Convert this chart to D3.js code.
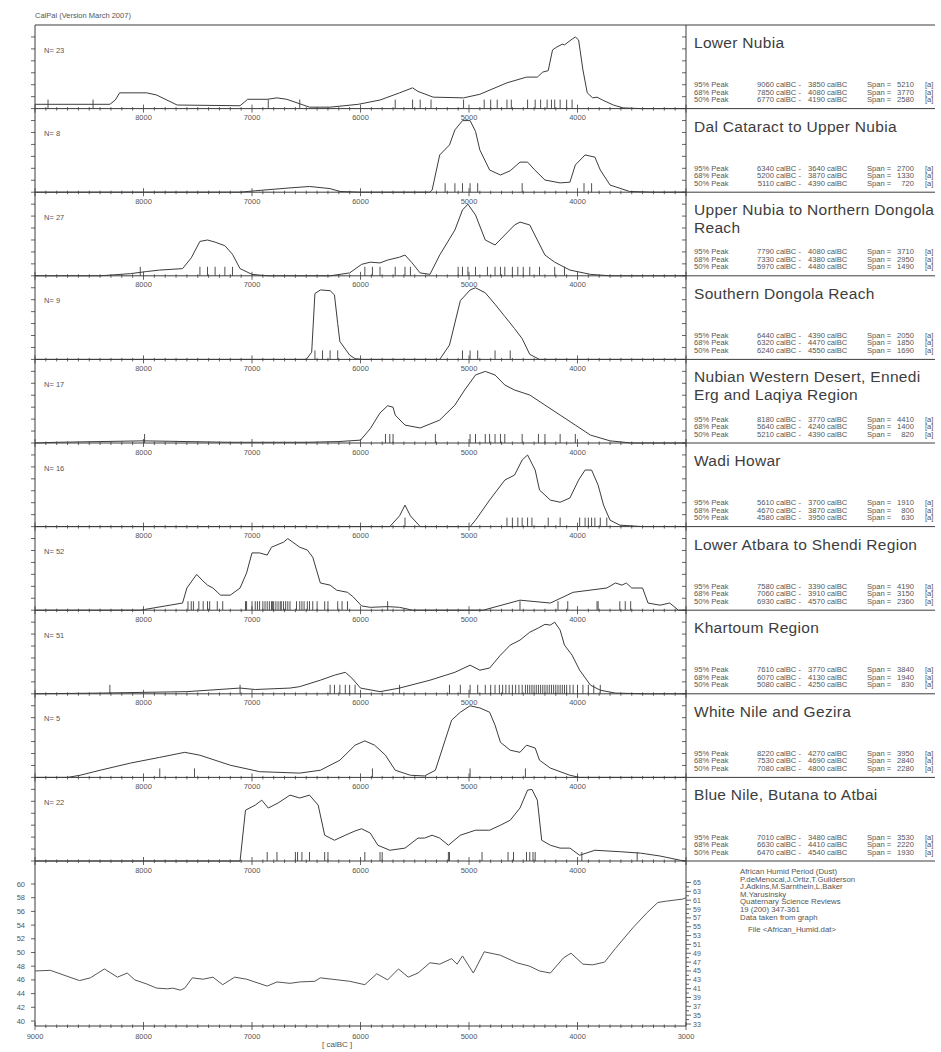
<!DOCTYPE html>
<html><head><meta charset="utf-8">
<script src="https://cdn.jsdelivr.net/npm/d3@7/dist/d3.min.js"></script>
<style>
body{margin:0;background:#fff;}
svg{display:block;font-family:"Liberation Sans",Arial,sans-serif;}
</style></head><body>
<svg id="chart" width="941" height="1052"></svg>
<script>
// ---- data -------------------------------------------------------------
const regionNames = [
  ["Lower Nubia"],
  ["Dal Cataract to Upper Nubia"],
  ["Upper Nubia to Northern Dongola", "Reach"],
  ["Southern Dongola Reach"],
  ["Nubian Western Desert, Ennedi", "Erg and Laqiya Region"],
  ["Wadi Howar"],
  ["Lower Atbara to Shendi Region"],
  ["Khartoum Region"],
  ["White Nile and Gezira"],
  ["Blue Nile, Butana to Atbai"]
];
const sampleCounts = [23, 8, 27, 9, 17, 16, 52, 51, 5, 22];
const peakLevels = ["95% Peak", "68% Peak", "50% Peak"];
const range95 = [[9060,3850],[6340,3640],[7790,4080],[6440,4390],[8180,3770],[5610,3700],[7580,3390],[7610,3770],[8220,4270],[7010,3480]];
const range68 = [[7850,4080],[5200,3870],[7330,4380],[6320,4470],[5640,4240],[4670,3870],[7060,3910],[6070,4130],[7530,4690],[6630,4410]];
const range50 = [[6770,4190],[5110,4390],[5970,4480],[6240,4550],[5210,4390],[4580,3950],[6930,4570],[5080,4250],[7080,4800],[6470,4540]];

// summed probability, [calBC, relative density in % of panel maximum]
const curveLowerNubia = [[9000,6],[8310,6],[8260,12],[8220,22],[7970,22],[7880,19],[7690,5],[7110,4],[7040,13],[6860,13],[6770,15],[6680,13],[6470,2],[6280,2],[6020,6],[5820,12],[5640,22],[5520,29],[5470,24],[5330,16],[5050,15],[4900,20],[4650,36],[4470,44],[4370,44],[4320,51],[4270,53],[4230,82],[4190,86],[4140,90],[4120,89],[4050,97],[4020,100],[3990,96],[3950,54],[3910,22],[3860,15],[3820,16],[3770,12],[3670,5],[3580,1],[3420,0],[3000,0]];
const curveDalCataract = [[9000,0],[7110,0],[6970,2],[6650,6],[6470,8],[6280,5],[6190,1],[6000,0],[5360,0],[5340,3],[5270,52],[5180,66],[5130,87],[5060,100],[4990,100],[4940,85],[4900,59],[4810,31],[4710,24],[4620,30],[4530,42],[4460,42],[4400,32],[4300,17],[4160,13],[4070,14],[4020,38],[3930,52],[3840,49],[3790,31],[3700,10],[3520,1],[3300,0],[3000,0]];
const curveUpperNubia = [[9000,0],[8400,0],[8120,3],[7970,6],[7850,8],[7640,10],[7560,25],[7480,48],[7410,50],[7340,47],[7250,42],[7180,30],[7110,10],[7000,2],[6860,0],[6280,0],[6100,4],[5990,16],[5910,19],[5820,18],[5750,22],[5640,26],[5590,29],[5530,19],[5450,4],[5360,2],[5270,29],[5130,64],[5060,92],[5010,100],[4940,85],[4850,50],[4760,43],[4670,57],[4580,71],[4530,75],[4440,71],[4370,50],[4300,29],[4210,19],[4070,8],[3880,2],[3700,0],[3000,0]];
const curveSouthernDongola = [[9000,0],[6500,0],[6450,10],[6420,92],[6370,97],[6280,96],[6240,90],[6210,50],[6190,25],[6100,6],[6050,1],[5980,0],[5270,0],[5180,20],[5080,82],[4990,97],[4940,100],[4850,93],[4760,77],[4670,60],[4580,43],[4510,29],[4440,7],[4350,0],[3000,0]];
const curveWesternDesert = [[9000,0],[8800,1],[8400,2],[8000,3],[7600,2],[7200,1],[6500,1],[6200,2],[6000,4],[5910,20],[5820,42],[5750,52],[5700,50],[5680,39],[5590,25],[5450,21],[5270,32],[5130,53],[5040,74],[4940,95],[4850,100],[4760,95],[4670,81],[4580,74],[4440,67],[4300,53],[4160,39],[4020,25],[3880,11],[3700,3],[3500,0],[3000,0]];
const curveWadiHowar = [[9000,0],[5730,0],[5640,15],[5590,30],[5540,15],[5450,0],[4990,0],[4940,9],[4810,37],[4670,65],[4580,72],[4510,93],[4460,100],[4390,79],[4350,51],[4250,37],[4160,34],[4070,40],[3990,65],[3930,79],[3870,79],[3810,58],[3760,30],[3700,9],[3610,2],[3400,0],[3000,0]];
const curveLowerAtbara = [[9000,0],[8030,0],[7990,1],[7640,10],[7600,31],[7510,50],[7460,42],[7410,35],[7360,31],[7290,21],[7200,21],[7110,31],[7050,52],[7000,80],[6930,80],[6860,77],[6820,88],[6710,95],[6670,100],[6560,88],[6490,84],[6440,74],[6370,38],[6280,35],[6220,28],[6120,25],[6070,19],[5990,6],[5910,4],[5750,5],[5640,4],[5520,0],[4870,0],[4530,14],[4250,10],[4040,25],[3730,31],[3650,38],[3590,35],[3550,38],[3500,31],[3400,31],[3350,10],[3240,7],[3150,10],[3070,0],[3000,0]];
const curveKhartoum = [[9000,0],[8400,1],[8000,2],[7600,3],[7110,8],[6970,6],[6650,8],[6560,10],[6370,19],[6240,26],[6140,30],[6080,22],[6000,8],[5820,3],[5640,8],[5360,19],[5130,30],[4990,40],[4900,33],[4810,36],[4710,54],[4620,68],[4530,75],[4440,86],[4360,92],[4300,97],[4250,96],[4210,100],[4160,89],[4120,68],[4050,54],[3980,33],[3880,12],[3790,5],[3650,1],[3400,0],[3000,0]];
const curveWhiteNile = [[9000,0],[8700,0],[8585,3],[8400,10],[8120,20],[7850,28],[7620,35],[7480,31],[7200,17],[6930,8],[6560,6],[6370,10],[6190,24],[6050,45],[5960,51],[5870,45],[5770,31],[5680,10],[5540,3],[5410,2],[5310,10],[5220,52],[5160,80],[5080,91],[4990,100],[4900,97],[4810,91],[4760,73],[4710,49],[4620,38],[4530,35],[4470,45],[4390,41],[4350,24],[4250,13],[4070,3],[3980,0],[3000,0]];
const curveBlueNile = [[9000,0],[7110,0],[7060,71],[6970,78],[6910,85],[6850,74],[6760,81],[6650,92],[6560,88],[6470,92],[6390,78],[6330,36],[6240,29],[6140,36],[6050,42],[5990,45],[5910,39],[5840,22],[5730,15],[5590,18],[5470,32],[5410,32],[5340,36],[5270,32],[5190,22],[5080,36],[4940,43],[4810,43],[4710,50],[4620,57],[4530,74],[4460,99],[4420,100],[4370,85],[4330,29],[4250,22],[4160,18],[4070,18],[3980,8],[3840,15],[3610,13],[3420,11],[3240,7],[3050,1],[3000,0]];

// single dates (calBC)
const datesLowerNubia = [8880,8465,6850,6560,5680,5520,5450,5350,5050,4860,4800,4740,4650,4610,4460,4390,4340,4280,4240,4210,4160,4100,4050];
const datesDalCataract = [5220,5130,5060,4990,4920,4510,3940,3870];
const datesUpperNubia = [8030,7480,7410,7340,7250,7180,5960,5890,5820,5680,5590,5540,5100,5060,5010,4940,4830,4760,4710,4670,4600,4550,4500,4440,4350,4210,4120];
const datesSouthernDongola = [6420,6350,6280,6210,5060,4990,4920,4760,4620];
const datesWesternDesert = [7990,5770,5730,5700,5310,4990,4940,4850,4810,4760,4710,4670,4510,4360,4300,4160,4020];
const datesWadiHowar = [5590,4650,4600,4550,4510,4460,4420,4270,4160,3980,3930,3900,3870,3840,3790,3730];
const datesLowerAtbara = [7590,7560,7540,7490,7450,7410,7390,7320,7270,7060,7050,7000,6970,6950,6930,6900,6880,6860,6840,6820,6810,6800,6780,6760,6740,6730,6710,6690,6670,6650,6590,6560,6540,6520,6490,6470,6440,6400,6330,6300,6210,6170,6120,5750,4530,4180,4090,3820,3810,3610,3560,3510];
const datesKhartoum = [8310,7110,6280,6240,6190,6140,6100,6050,5640,5180,5080,4990,4920,4850,4800,4760,4720,4690,4660,4630,4600,4570,4540,4510,4480,4460,4440,4420,4400,4380,4360,4340,4320,4300,4280,4260,4240,4220,4200,4180,4160,4140,4120,4100,4070,4040,4000,3950,3900,3850,3790];
const datesWhiteNile = [7850,7530,5890,4990,4480];
const datesBlueNile = [6860,6770,6600,6580,6540,6470,6330,6300,5960,5820,5800,5190,5180,4880,4640,4590,4470,4440,4410,4390,3960,3450];

// African Humid Period (dust record), [calBC, value]
const humidRecord = [[9000,47.3],[8860,47.4],[8590,45.9],[8490,46.3],[8360,47.6],[8240,46.4],[8150,47.0],[8080,46.0],[7970,45.4],[7880,44.8],[7780,44.7],[7730,44.8],[7660,44.5],[7620,44.8],[7550,46.3],[7450,46.1],[7360,46.4],[7270,45.3],[7160,46.4],[7050,46.1],[6860,45.1],[6770,45.7],[6650,45.5],[6560,45.7],[6420,45.8],[6370,46.3],[6100,45.8],[5960,45.3],[5850,46.9],[5750,46.0],[5650,47.6],[5560,46.4],[5470,47.0],[5360,48.5],[5270,48.3],[5160,49.1],[5110,48.3],[5060,49.5],[4960,47.0],[4860,50.1],[4710,49.6],[4560,48.5],[4440,48.0],[4350,47.3],[4250,47.0],[4130,49.2],[4060,49.9],[3950,48.3],[3860,48.2],[3750,48.6],[3650,50.6],[3490,53.6],[3360,55.8],[3260,57.3],[3180,57.5],[3030,57.8],[3000,58.0]];
const humidNotes = ["African Humid Period (Dust)","P.deMenocal,J.Ortiz,T.Guilderson","J.Adkins,M.Sarnthein,L.Baker","M.Yarusinsky","Quaternary Science Reviews","19 (200) 347-361","Data taken from graph"];
const humidFile = "File <African_Humid.dat>";

const panelYearTicks = [8000, 7000, 6000, 5000, 4000];
const bottomYearTicks = [9000, 8000, 7000, 6000, 5000, 4000, 3000];
const humidLeftTicks = [40, 42, 44, 46, 48, 50, 52, 54, 56, 58, 60];
const humidRightTicks = [33, 35, 37, 39, 41, 43, 45, 47, 49, 51, 53, 55, 57, 59, 61, 63, 65];

const curves = [curveLowerNubia, curveDalCataract, curveUpperNubia, curveSouthernDongola, curveWesternDesert, curveWadiHowar, curveLowerAtbara, curveKhartoum, curveWhiteNile, curveBlueNile];
const dates = [datesLowerNubia, datesDalCataract, datesUpperNubia, datesSouthernDongola, datesWesternDesert, datesWadiHowar, datesLowerAtbara, datesKhartoum, datesWhiteNile, datesBlueNile];

// ---- layout -----------------------------------------------------------
const plotL = 35, plotR = 686, textR = 935, frameTop = 25, panelH = 83.6;
const nPanels = regionNames.length;
const humidTop = frameTop + nPanels * panelH, humidBottom = 1026;
const lineCol = "#3c3c3c", textCol = "#555", titleCol = "#3d3d3d";

const svg = d3.select("#chart");
const x = d3.scaleLinear().domain([9000, 3000]).range([plotL, plotR]);
const minorYears = d3.range(9000, 2999, -100);

svg.append("text").attr("x", plotL).attr("y", 18).attr("font-size", 7.5).attr("fill", textCol)
  .text("CalPal (Version March 2007)");

// frame lines
svg.append("line").attr("x1", plotL).attr("x2", textR).attr("y1", frameTop).attr("y2", frameTop)
  .attr("stroke", lineCol).attr("stroke-width", 1);
svg.append("line").attr("x1", plotL).attr("x2", plotL).attr("y1", frameTop).attr("y2", humidBottom)
  .attr("stroke", lineCol);
svg.append("line").attr("x1", plotR).attr("x2", plotR).attr("y1", frameTop).attr("y2", humidBottom)
  .attr("stroke", lineCol);

function yearAxis(g, base, labels, labelDy) {
  g.selectAll("line.minor").data(minorYears).join("line")
    .attr("x1", d => x(d)).attr("x2", d => x(d))
    .attr("y1", d => d % 1000 === 0 ? base - 4 : base - 1.5)
    .attr("y2", d => d % 1000 === 0 ? base + 4 : base + 2)
    .attr("stroke", lineCol).attr("stroke-width", 0.8);
  g.selectAll("text.yr").data(labels).join("text").attr("class", "yr")
    .attr("x", d => x(d)).attr("y", base + labelDy).attr("text-anchor", "middle")
    .attr("font-size", 7.5).attr("fill", textCol).text(d => d);
}

for (let i = 0; i < nPanels; i++) {
  const y0 = frameTop + i * panelH, base = y0 + panelH;
  const y = d3.scaleLinear().domain([0, 100]).range([base, y0 + 12]);
  const g = svg.append("g");

  // side ticks of the panel
  const sideTicks = d3.range(0, 7).map(k => d3.scaleLinear().domain([0, 7]).range([base, y0])(k));
  g.selectAll("line.lt").data(sideTicks).join("line")
    .attr("x1", plotL - 4).attr("x2", plotL).attr("y1", d => d).attr("y2", d => d)
    .attr("stroke", lineCol).attr("stroke-width", 0.8);
  g.selectAll("line.rt").data(sideTicks).join("line").attr("class", "rt")
    .attr("x1", plotR - 4).attr("x2", plotR).attr("y1", d => d).attr("y2", d => d)
    .attr("stroke", lineCol).attr("stroke-width", 0.8);

  // baseline / divider
  g.append("line").attr("x1", plotL).attr("x2", textR).attr("y1", base).attr("y2", base)
    .attr("stroke", lineCol).attr("stroke-width", 1);
  yearAxis(g, base, panelYearTicks, 11.5);

  // single dates
  g.selectAll("line.date").data(dates[i]).join("line").attr("class", "date")
    .attr("x1", d => x(d)).attr("x2", d => x(d)).attr("y1", base).attr("y2", base - 9)
    .attr("stroke", lineCol).attr("stroke-width", 0.9);

  // summed probability curve
  g.append("path").datum(curves[i])
    .attr("d", d3.line().x(d => x(d[0])).y(d => y(d[1])))
    .attr("fill", "none").attr("stroke", lineCol).attr("stroke-width", 1);

  g.append("text").attr("x", 44).attr("y", y0 + 27.5).attr("font-size", 7.5).attr("fill", textCol)
    .text("N= " + sampleCounts[i]);

  // title and peak ranges
  regionNames[i].forEach((t, k) => {
    g.append("text").attr("x", 694).attr("y", y0 + 23 + k * 18).attr("font-size", 15.5)
      .attr("letter-spacing", 0.3).attr("fill", titleCol).text(t);
  });
  const ranges = [range95[i], range68[i], range50[i]];
  ranges.forEach((r, k) => {
    const ty = base - 21.5 + k * 7.5;
    const row = g.append("g").attr("font-size", 7.6).attr("fill", textCol);
    row.append("text").attr("x", 694).attr("y", ty).text(peakLevels[k]);
    row.append("text").attr("x", 801).attr("y", ty).attr("text-anchor", "end").text(r[0] + " calBC -");
    row.append("text").attr("x", 808).attr("y", ty).text(r[1] + " calBC");
    row.append("text").attr("x", 867).attr("y", ty).text("Span =");
    row.append("text").attr("x", 914).attr("y", ty).attr("text-anchor", "end").text(r[0] - r[1]);
    row.append("text").attr("x", 925).attr("y", ty).text("[a]");
  });
}

// ---- humid period record --------------------------------------------
const gh = svg.append("g");
const yL = d3.scaleLinear().domain([40, 60]).range([1021, 884]);
const yR = d3.scaleLinear().domain([33, 65]).range([1024, 882.5]);

gh.append("line").attr("x1", plotL).attr("x2", plotR).attr("y1", humidBottom).attr("y2", humidBottom)
  .attr("stroke", lineCol);
yearAxis(gh, humidBottom, bottomYearTicks, 13);

gh.selectAll("line.hl").data(humidLeftTicks).join("line")
  .attr("x1", plotL - 4).attr("x2", plotL).attr("y1", d => yL(d)).attr("y2", d => yL(d))
  .attr("stroke", lineCol).attr("stroke-width", 0.8);
gh.selectAll("text.hl").data(humidLeftTicks).join("text").attr("class", "hl")
  .attr("x", 25).attr("y", d => yL(d) + 2.5).attr("text-anchor", "end")
  .attr("font-size", 7.5).attr("fill", textCol).text(d => d);

gh.selectAll("line.hr").data(d3.range(33, 66)).join("line").attr("class", "hr")
  .attr("x1", plotR).attr("x2", d => plotR + (d % 2 ? 5 : 3)).attr("y1", d => yR(d)).attr("y2", d => yR(d))
  .attr("stroke", lineCol).attr("stroke-width", 0.8);
gh.selectAll("text.hr").data(humidRightTicks).join("text").attr("class", "hr")
  .attr("x", plotR + 7).attr("y", d => yR(d) + 2.5)
  .attr("font-size", 7).attr("fill", textCol).text(d => d);

gh.append("path").datum(humidRecord)
  .attr("d", d3.line().x(d => x(d[0])).y(d => yL(d[1])))
  .attr("fill", "none").attr("stroke", "#555").attr("stroke-width", 1);

humidNotes.forEach((t, k) => {
  gh.append("text").attr("x", 740).attr("y", humidTop + 13 + k * 7.6)
    .attr("font-size", 7.8).attr("fill", textCol).text(t);
});
gh.append("text").attr("x", 748).attr("y", humidTop + 13 + 7 * 7.6 + 5)
  .attr("font-size", 7.8).attr("fill", textCol).text(humidFile);

svg.append("text").attr("x", 322).attr("y", 1047).attr("font-size", 8).attr("fill", textCol)
  .text("[ calBC ]");
</script></body></html>
